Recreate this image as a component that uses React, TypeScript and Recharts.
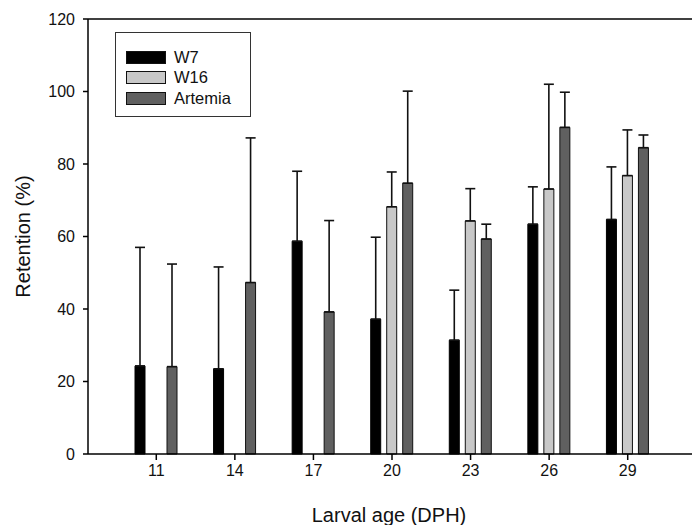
import { BarChart, Bar, XAxis, YAxis, ErrorBar, Legend, ReferenceLine } from "recharts";

const ages = ["11", "14", "17", "20", "23", "26", "29"];
const seriesNames = ["W7", "W16", "Artemia"];
const w7Mean = [24.3, 23.5, 58.7, 37.2, 31.4, 63.4, 64.7];
const w7Err = [32.7, 28.1, 19.3, 22.6, 13.8, 10.3, 14.5];
const w16Mean = [null, null, null, 68.2, 64.3, 73.1, 76.8];
const w16Err = [null, null, null, 9.6, 8.9, 28.9, 12.6];
const artMean = [24.1, 47.3, 39.2, 74.7, 59.3, 90.1, 84.5];
const artErr = [28.3, 39.9, 25.2, 25.4, 4.1, 9.7, 3.5];
const yTicks = [0, 20, 40, 60, 80, 100, 120];

const data = ages.map((age, i) => ({
  age,
  w7: w7Mean[i], w7e: w7Err[i],
  w16: w16Mean[i], w16e: w16Err[i],
  art: artMean[i], arte: artErr[i],
}));

const font = "'Liberation Sans', Arial, sans-serif";

// upper-only error bars
const up = (k: string) => (d: any) => (d[k] == null ? null : [0, d[k]]);

const LegendBox = ({ payload }: any) => {
  // keep the series order, recharts sorts by name otherwise
  const items = seriesNames.map((n) => (payload || []).find((p: any) => p.value === n)).filter(Boolean);
  return (
    <div style={{ border: "1.5px solid #333", width: 136, height: 85, boxSizing: "border-box", padding: "14px 0 0 10px", fontFamily: font, fontSize: 16.5, color: "#111" }}>
      {items.map((p: any) => (
        <div key={p.value} style={{ display: "flex", alignItems: "center", height: 20.5 }}>
          <div style={{ width: 38, height: 11, background: p.color, border: "1.5px solid #111", marginRight: 8 }} />
          <span>{p.value}</span>
        </div>
      ))}
    </div>
  );
};

export default function App() {
  return (
    <div style={{ position: "absolute", left: 0, top: 0, background: "#fff" }}>
      <BarChart width={692} height={525} data={data} margin={{ top: 19, right: 0, left: 0, bottom: 0 }}
        barSize={10} barGap={6} barCategoryGap="23%">
        <XAxis dataKey="age" height={71} padding={{ left: 29, right: 25 }}
          stroke="#000" strokeWidth={1.5} tickSize={6} tickMargin={5}
          tick={{ fontSize: 16, fill: "#111", fontFamily: font }}
          label={{
            content: ({ viewBox }: any) => (
              <text x={viewBox.x + viewBox.width / 2 - 1} y={viewBox.y + 68} textAnchor="middle"
                fontSize={20} fontFamily={font} fill="#111">Larval age (DPH)</text>
            ),
          }} />
        <YAxis width={88} domain={[0, 120]} ticks={yTicks} stroke="#000" strokeWidth={1.5}
          tickSize={5} tickMargin={8} interval={0}
          tick={{ fontSize: 16, fill: "#111", fontFamily: font }}
          label={{
            content: ({ viewBox }: any) => {
              const cx = viewBox.x + 30;
              const cy = viewBox.y + viewBox.height / 2;
              return (
                <text x={cx} y={cy} textAnchor="middle" transform={`rotate(-90 ${cx} ${cy})`}
                  fontSize={20} fontFamily={font} fill="#111">Retention (%)</text>
              );
            },
          }} />
        <ReferenceLine y={120} stroke="#000" strokeWidth={1.5} />
        <Legend layout="vertical" align="center" verticalAlign="middle" content={<LegendBox />}
          wrapperStyle={{ left: 115, top: 32, width: 136 }} />
        <Bar dataKey="w7" name="W7" fill="#000" stroke="#000" strokeWidth={1} isAnimationActive={false}>
          <ErrorBar dataKey={up("w7e")} direction="y" width={5} stroke="#111" strokeWidth={1.6} />
        </Bar>
        <Bar dataKey="w16" name="W16" fill="#c8c8c8" stroke="#111" strokeWidth={1} isAnimationActive={false}>
          <ErrorBar dataKey={up("w16e")} direction="y" width={5} stroke="#111" strokeWidth={1.6} />
        </Bar>
        <Bar dataKey="art" name="Artemia" fill="#606060" stroke="#111" strokeWidth={1} isAnimationActive={false}>
          <ErrorBar dataKey={up("arte")} direction="y" width={5} stroke="#111" strokeWidth={1.6} />
        </Bar>
      </BarChart>
    </div>
  );
}
